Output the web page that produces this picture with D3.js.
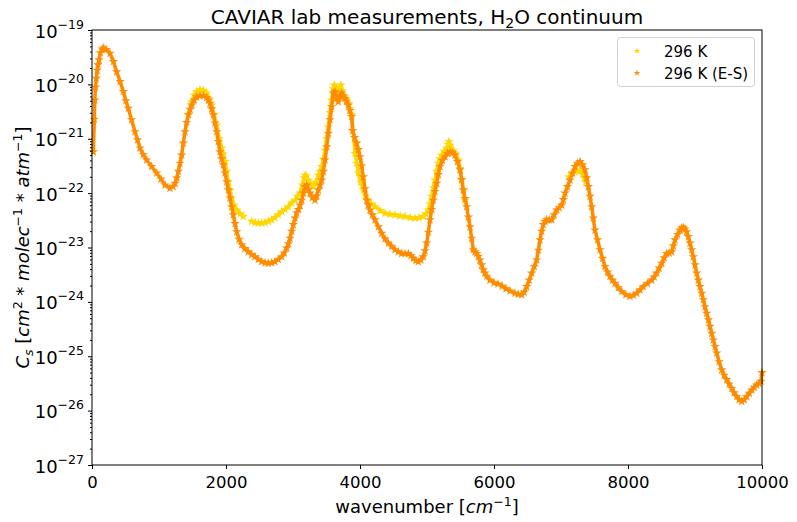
<!DOCTYPE html>
<html>
<head>
<meta charset="utf-8">
<script src="https://cdn.jsdelivr.net/npm/d3@7"></script>
<style>
  body { margin: 0; background: #fff; }
  text { font-family: 'DejaVu Sans', sans-serif; fill: #000; }
</style>
</head>
<body>
<div id="chart"></div>
<script>
// wavenumber [cm^-1] and log10(C_s)
var esWavenumber = [20, 35, 42, 52, 65, 78, 90, 105, 125, 150, 175, 210, 269, 320, 368, 420, 468, 505, 542, 590, 642, 680, 716, 765, 816, 890, 965, 1030, 1090, 1164, 1210, 1239, 1265, 1289, 1313, 1338, 1363, 1388, 1413, 1438, 1463, 1488, 1525, 1562, 1612, 1662, 1712, 1740, 1761, 1786, 1811, 1836, 1861, 1885, 1910, 1935, 1960, 1985, 2010, 2035, 2060, 2085, 2109, 2135, 2160, 2195, 2234, 2280, 2333, 2383, 2433, 2483, 2533, 2583, 2632, 2680, 2731, 2780, 2831, 2870, 2906, 2930, 2955, 2980, 3005, 3030, 3055, 3080, 3104, 3130, 3155, 3179, 3204, 3229, 3254, 3290, 3328, 3353, 3378, 3403, 3428, 3453, 3478, 3503, 3527, 3552, 3577, 3602, 3627, 3652, 3676, 3700, 3726, 3750, 3776, 3800, 3826, 3850, 3876, 3890, 3920, 3950, 3975, 4000, 4025, 4049, 4075, 4100, 4124, 4149, 4185, 4224, 4275, 4324, 4373, 4423, 4472, 4522, 4572, 4622, 4672, 4721, 4760, 4796, 4833, 4870, 4908, 4945, 4970, 4995, 5020, 5045, 5069, 5094, 5119, 5144, 5169, 5194, 5230, 5269, 5305, 5343, 5380, 5418, 5455, 5493, 5518, 5542, 5567, 5592, 5617, 5642, 5666, 5691, 5716, 5741, 5766, 5791, 5815, 5840, 5865, 5891, 5940, 6000, 6060, 6120, 6180, 6240, 6313, 6360, 6413, 6450, 6488, 6525, 6563, 6600, 6637, 6662, 6687, 6711, 6736, 6761, 6786, 6823, 6861, 6898, 6936, 6973, 7010, 7035, 7060, 7097, 7134, 7172, 7209, 7246, 7284, 7320, 7358, 7383, 7408, 7433, 7458, 7482, 7507, 7545, 7582, 7620, 7657, 7694, 7731, 7768, 7806, 7856, 7906, 7968, 8030, 8080, 8130, 8180, 8229, 8290, 8354, 8390, 8428, 8465, 8503, 8540, 8578, 8615, 8652, 8677, 8701, 8740, 8776, 8800, 8826, 8850, 8876, 8900, 8925, 8950, 8975, 9000, 9025, 9050, 9075, 9100, 9124, 9150, 9174, 9200, 9224, 9250, 9274, 9300, 9324, 9360, 9398, 9435, 9473, 9510, 9548, 9585, 9623, 9660, 9697, 9735, 9772, 9810, 9847, 9885, 9921, 9955, 9985, 10000]
var esLogCs = [-21.24, -20.64, -20.29, -20.05, -19.89, -19.74, -19.64, -19.55, -19.42, -19.35, -19.33, -19.36, -19.43, -19.58, -19.77, -19.95, -20.13, -20.30, -20.44, -20.65, -20.87, -21.02, -21.17, -21.29, -21.39, -21.51, -21.63, -21.74, -21.85, -21.91, -21.88, -21.82, -21.72, -21.60, -21.45, -21.30, -21.08, -20.87, -20.70, -20.56, -20.46, -20.38, -20.29, -20.23, -20.21, -20.21, -20.24, -20.29, -20.35, -20.45, -20.56, -20.71, -20.87, -21.05, -21.24, -21.37, -21.48, -21.63, -21.79, -21.94, -22.09, -22.25, -22.40, -22.56, -22.71, -22.85, -22.95, -23.02, -23.08, -23.13, -23.17, -23.22, -23.26, -23.28, -23.29, -23.28, -23.26, -23.22, -23.17, -23.10, -23.01, -22.93, -22.83, -22.70, -22.58, -22.46, -22.36, -22.30, -22.22, -22.13, -22.00, -21.88, -21.85, -21.93, -22.00, -22.08, -22.13, -22.05, -21.94, -21.85, -21.76, -21.60, -21.39, -21.15, -20.90, -20.65, -20.41, -20.16, -20.13, -20.25, -20.32, -20.22, -20.16, -20.21, -20.26, -20.31, -20.38, -20.48, -20.59, -20.85, -20.98, -21.08, -21.20, -21.33, -21.50, -21.70, -21.92, -22.13, -22.22, -22.31, -22.40, -22.49, -22.62, -22.74, -22.84, -22.92, -22.98, -23.04, -23.08, -23.11, -23.11, -23.11, -23.15, -23.20, -23.24, -23.26, -23.23, -23.17, -23.06, -22.92, -22.72, -22.49, -22.30, -22.13, -21.97, -21.82, -21.66, -21.51, -21.40, -21.33, -21.27, -21.24, -21.26, -21.30, -21.42, -21.57, -21.75, -21.94, -22.10, -22.25, -22.44, -22.62, -22.83, -23.04, -23.08, -23.11, -23.16, -23.23, -23.32, -23.41, -23.47, -23.53, -23.60, -23.65, -23.67, -23.71, -23.76, -23.80, -23.84, -23.86, -23.87, -23.82, -23.72, -23.60, -23.47, -23.35, -23.23, -23.05, -22.86, -22.70, -22.58, -22.52, -22.49, -22.49, -22.49, -22.40, -22.31, -22.27, -22.22, -22.12, -22.00, -21.88, -21.76, -21.63, -21.51, -21.45, -21.42, -21.48, -21.57, -21.72, -21.88, -22.06, -22.25, -22.46, -22.68, -22.86, -23.04, -23.20, -23.35, -23.45, -23.53, -23.60, -23.66, -23.74, -23.81, -23.87, -23.90, -23.88, -23.84, -23.78, -23.72, -23.66, -23.60, -23.54, -23.47, -23.38, -23.29, -23.19, -23.11, -23.10, -23.08, -22.97, -22.86, -22.76, -22.68, -22.64, -22.63, -22.66, -22.71, -22.80, -22.92, -23.04, -23.17, -23.32, -23.47, -23.60, -23.72, -23.84, -23.96, -24.09, -24.21, -24.33, -24.45, -24.58, -24.70, -24.82, -24.94, -25.10, -25.25, -25.35, -25.43, -25.51, -25.59, -25.67, -25.74, -25.80, -25.83, -25.80, -25.74, -25.68, -25.62, -25.57, -25.53, -25.50, -25.46, -25.30]

var labWavenumber = [1440, 1488, 1525, 1562, 1612, 1662, 1712, 1750, 1786, 1820, 1861, 1900, 1936, 1960, 1985, 2010, 2035, 2060, 2085, 2120, 2160, 2210, 2258, 2383, 2433, 2483, 2533, 2583, 2632, 2682, 2731, 2781, 2831, 2880, 2930, 2980, 3030, 3067, 3104, 3140, 3165, 3179, 3195, 3229, 3265, 3303, 3340, 3378, 3403, 3428, 3453, 3478, 3503, 3527, 3552, 3577, 3600, 3617, 3635, 3650, 3667, 3690, 3716, 3735, 3776, 3800, 3826, 3850, 3876, 3925, 3950, 3975, 4010, 4049, 4085, 4124, 4170, 4224, 4300, 4373, 4450, 4522, 4600, 4672, 4750, 4821, 4880, 4945, 4985, 5020, 5045, 5069, 5094, 5119, 5144, 5169, 5194, 5219, 5255, 5294, 5315, 5328, 5345, 5393, 5430, 5468, 5493, 5518, 5542, 5567, 7120, 7160, 7200, 7240, 7280, 7320, 7350, 7370]
var labLogCs = [-20.55, -20.32, -20.20, -20.13, -20.10, -20.11, -20.16, -20.26, -20.38, -20.55, -20.75, -21.00, -21.17, -21.28, -21.42, -21.60, -21.79, -21.95, -22.09, -22.22, -22.31, -22.38, -22.43, -22.52, -22.54, -22.55, -22.55, -22.54, -22.52, -22.49, -22.45, -22.40, -22.34, -22.30, -22.25, -22.18, -22.13, -22.06, -22.00, -21.85, -21.72, -21.67, -21.68, -21.76, -21.83, -21.88, -21.80, -21.67, -21.60, -21.51, -21.38, -21.21, -21.00, -20.78, -20.52, -20.29, -20.08, -20.01, -20.05, -20.15, -20.19, -20.10, -20.01, -20.12, -20.23, -20.28, -20.35, -20.45, -20.56, -21.27, -21.45, -21.63, -21.80, -21.94, -22.05, -22.13, -22.20, -22.25, -22.32, -22.37, -22.39, -22.40, -22.42, -22.43, -22.45, -22.46, -22.45, -22.43, -22.38, -22.31, -22.20, -22.06, -21.90, -21.76, -21.60, -21.45, -21.37, -21.30, -21.23, -21.17, -21.10, -21.05, -21.12, -21.21, -21.28, -21.39, -21.55, -21.76, -21.95, -22.13, -21.70, -21.64, -21.60, -21.58, -21.60, -21.65, -21.72, -21.80]

var seriesNames = ['296 K', '296 K (E-S)']
var seriesColors = ['#FFD700', '#FF8C00']
var xTicks = [0, 2000, 4000, 6000, 8000, 10000]
var yDecades = [-27, -26, -25, -24, -23, -22, -21, -20, -19]

var margin = { top: 30, left: 92, right: 35, bottom: 57 }
var width = 797 - margin.left - margin.right
var height = 522 - margin.top - margin.bottom

var svg = d3
  .select('#chart')
  .append('svg')
  .attr('width', 797)
  .attr('height', 522)

var container = svg
  .append('g')
  .attr('transform', 'translate(' + margin.left + ',' + margin.top + ')')

var xPositionScale = d3.scaleLinear().domain([0, 10000]).range([0, width])
var yPositionScale = d3
  .scaleLog()
  .domain([1e-27, 1e-19])
  .range([height, 0])

// build point lists
function toPoints(wn, logs) {
  return wn.map((w, i) => ({ wn: w, cs: Math.pow(10, logs[i]) }))
}
var series = [
  { name: seriesNames[0], color: seriesColors[0], points: toPoints(labWavenumber, labLogCs) },
  { name: seriesNames[1], color: seriesColors[1], points: toPoints(esWavenumber, esLogCs) }
]

var star = d3.symbol().type(d3.symbolStar).size(28)

// connect neighbouring points only (gaps in the lab data stay open)
var line = d3
  .line()
  .x(d => xPositionScale(d.wn))
  .y(d => yPositionScale(d.cs))
  .defined((d, i, arr) => i === 0 || d.wn - arr[i - 1].wn < 100)

var plot = container.append('g')

series.forEach(function(s) {
  var g = plot.append('g')
  g.append('path')
    .datum(s.points)
    .attr('d', line)
    .attr('fill', 'none')
    .attr('stroke', s.color)
    .attr('stroke-width', 3.5)
    .attr('stroke-linejoin', 'round')
  g.selectAll('.star')
    .data(s.points)
    .enter()
    .append('path')
    .attr('d', star)
    .attr('transform', d => `translate(${xPositionScale(d.wn)},${yPositionScale(d.cs)})`)
    .attr('fill', s.color)
})

// x axis
var xAxis = d3.axisBottom(xPositionScale).tickValues(xTicks).tickSize(4).tickFormat(d3.format('d'))
container
  .append('g')
  .attr('transform', 'translate(0,' + height + ')')
  .call(xAxis)
  .call(g => g.select('.domain').remove())
  .call(g => g.selectAll('text').attr('font-size', 16.5).attr('dy', '0.95em').attr('font-family', 'DejaVu Sans'))

// y axis, minor ticks then major
var minorValues = []
yDecades.slice(0, -1).forEach(function(e) {
  for (var m = 2; m <= 9; m++) minorValues.push(m * Math.pow(10, e))
})
container
  .append('g')
  .call(d3.axisLeft(yPositionScale).tickValues(minorValues).tickSize(2).tickFormat(''))
  .call(g => g.select('.domain').remove())

var yAxisG = container
  .append('g')
  .call(d3.axisLeft(yPositionScale).tickValues(yDecades.map(e => Math.pow(10, e))).tickSize(4).tickFormat(''))
  .call(g => g.select('.domain').remove())

yAxisG.selectAll('.tick').each(function(d) {
  var e = Math.round(Math.log10(d))
  var t = d3
    .select(this)
    .append('text')
    .attr('x', -8)
    .attr('y', 7)
    .attr('text-anchor', 'end')
    .attr('font-size', 18)
    .attr('fill', '#000')
  t.append('tspan').text('10')
  t.append('tspan').attr('dy', -9).attr('font-size', 12.5).text('\u2212' + Math.abs(e))
})

// frame
container
  .append('rect')
  .attr('width', width)
  .attr('height', height)
  .attr('fill', 'none')
  .attr('stroke', '#000')
  .attr('stroke-width', 1)

// title
var title = svg
  .append('text')
  .attr('x', margin.left + width / 2)
  .attr('y', 24)
  .attr('text-anchor', 'middle')
  .attr('font-size', 20)
title.append('tspan').text('CAVIAR lab measurements, H')
title.append('tspan').attr('dy', 4).attr('font-size', 14).text('2')
title.append('tspan').attr('dy', -4).text('O continuum')

// x label
var xLabel = svg
  .append('text')
  .attr('x', margin.left + width / 2)
  .attr('y', 513)
  .attr('text-anchor', 'middle')
  .attr('font-size', 18)
xLabel.append('tspan').text('wavenumber [')
xLabel.append('tspan').attr('font-style', 'italic').text('cm')
xLabel.append('tspan').attr('dy', -7).attr('font-size', 12.5).text('\u22121')
xLabel.append('tspan').attr('dy', 7).text(']')

// y label
var yLabel = svg
  .append('text')
  .attr('transform', `translate(29,${margin.top + height / 2}) rotate(-90)`)
  .attr('text-anchor', 'middle')
  .attr('font-size', 18)
yLabel.append('tspan').attr('font-style', 'italic').text('C')
yLabel.append('tspan').attr('font-style', 'italic').attr('font-size', 12.5).attr('dy', 4).text('s')
yLabel.append('tspan').attr('dy', -4).text(' [')
yLabel.append('tspan').attr('font-style', 'italic').text('cm')
yLabel.append('tspan').attr('dy', -7).attr('font-size', 12.5).text('2')
yLabel.append('tspan').attr('dy', 7).text(' * ')
yLabel.append('tspan').attr('font-style', 'italic').text('molec')
yLabel.append('tspan').attr('dy', -7).attr('font-size', 12.5).text('\u22121')
yLabel.append('tspan').attr('dy', 7).text(' * ')
yLabel.append('tspan').attr('font-style', 'italic').text('atm')
yLabel.append('tspan').attr('dy', -7).attr('font-size', 12.5).text('\u22121')
yLabel.append('tspan').attr('dy', 7).text(']')

// legend
var legend = svg.append('g').attr('transform', 'translate(617,37)')
legend
  .append('rect')
  .attr('x', 0.5)
  .attr('y', 0.5)
  .attr('width', 137)
  .attr('height', 49)
  .attr('rx', 3)
  .attr('fill', '#fff')
  .attr('fill-opacity', 0.8)
  .attr('stroke', '#d0d0d0')

series.forEach(function(s, i) {
  var row = legend.append('g').attr('transform', `translate(20,${14 + i * 22})`)
  row.append('path').attr('d', d3.symbol().type(d3.symbolStar).size(14)).attr('fill', s.color)
  row
    .append('text')
    .attr('x', 27)
    .attr('y', 5.5)
    .attr('font-size', 15)
    .text(s.name)
})
</script>
</body>
</html>
